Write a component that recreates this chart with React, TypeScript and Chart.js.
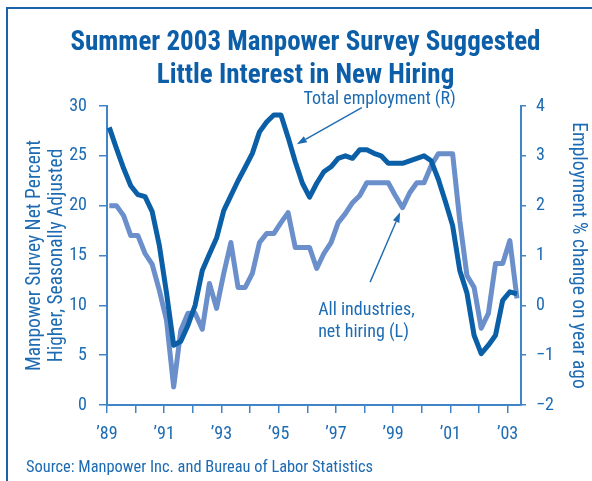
import React, { useEffect, useRef } from 'react';
import { Chart, registerables } from 'chart.js';

Chart.register(...registerables);

// ---- data (quarterly, 1989 Q1 .. 2003 Q2) ----
const FIRST_YEAR = 1989;
const QUARTERS_PER_YEAR = 4;
const PLOT_OFFSET = 0.08; // position of a quarter's point within the quarter

// Manpower survey: net percent higher, seasonally adjusted (left axis)
const netHiring = [
  20, 20, 19, 17, 17, 15.2, 14.1, 11.5, 8.5, 1.8, 7.5, 9.2,
  9.2, 7.6, 12.2, 9.7, 13.2, 16.3, 11.8, 11.8, 13.2, 16.3, 17.2, 17.2,
  18.3, 19.3, 15.8, 15.8, 15.8, 13.7, 15.2, 16.3, 18.3, 19.2, 20.3, 21.0,
  22.3, 22.3, 22.3, 22.3, 21.0, 19.8, 21.3, 22.3, 22.3, 24.0, 25.2, 25.2,
  25.2, 18.5, 13.0, 11.8, 7.7, 9.2, 14.2, 14.2, 16.5, 10.7,
];

// Total employment, % change on year ago (right axis)
const employment = [
  3.57, 3.15, 2.75, 2.4, 2.22, 2.18, 1.88, 1.2, 0.25, -0.8, -0.72, -0.4,
  0.0, 0.7, 1.03, 1.35, 1.9, 2.2, 2.5, 2.77, 3.05, 3.48, 3.68, 3.82,
  3.82, 3.37, 2.88, 2.45, 2.17, 2.45, 2.68, 2.78, 2.95, 3.0, 2.95, 3.12,
  3.12, 3.05, 3.0, 2.85, 2.85, 2.85, 2.9, 2.95, 3.0, 2.9, 2.53, 2.08,
  1.6, 0.7, 0.25, -0.6, -0.97, -0.8, -0.6, 0.1, 0.27, 0.23,
];

const tickYears = [1989, 1990, 1991, 1992, 1993, 1994, 1995, 1996, 1997, 1998, 1999, 2000, 2001, 2002, 2003];
const labeledYears = [1989, 1991, 1993, 1995, 1997, 1999, 2001, 2003];
const yearLabels = ['\u201989', '\u201991', '\u201993', '\u201995', '\u201997', '\u201999', '\u201901', '\u201903'];

const leftTicks = [0, 5, 10, 15, 20, 25, 30];
const rightTicks = [-2, -1, 0, 1, 2, 3, 4];
const rightTickLabels = ['\u22122', '\u22121', '0', '1', '2', '3', '4'];

const X_MIN = 1989;
const X_MAX = 2003.47;

const titleLines = ['Summer 2003 Manpower Survey Suggested', 'Little Interest in New Hiring'];
const leftAxisTitle = ['Manpower Survey Net Percent', 'Higher, Seasonally Adjusted'];
const rightAxisTitle = 'Employment % change on year ago';
const sourceText = 'Source: Manpower Inc. and Bureau of Labor Statistics';

// ---- styles ----
const FONT = "'Roboto Condensed', 'Open Sans Condensed', sans-serif";
const TITLE_BLUE = '#0b5ea7';
const TEXT_BLUE = '#1d6bb3';
const AXIS_BLUE = '#4285c6';
const DARK_LINE = '#0a5fa6';
const LIGHT_LINE = '#6a8fca';

// annotation placement (data coordinates: x in years, y on left axis)
const notes = [
  { x: 1995.87, y: 30.2, lines: ['Total employment (R)'] },
  { x: 1996.38, y: 9.05, lines: ['All industries,', 'net hiring (L)'] },
];
const arrows = [
  { from: [1997.905, 29.83], to: [1995.633, 26.17] },
  { from: [1998.196, 12.33], to: [1999.245, 19.33] },
];

const quarterX = (i: number) => FIRST_YEAR + i / QUARTERS_PER_YEAR + PLOT_OFFSET;

const annotationPlugin = {
  id: 'notes',
  afterDraw(chart: any) {
    const { ctx, scales } = chart;
    const xs = scales.x;
    const ys = scales.yL;
    ctx.save();
    ctx.fillStyle = TEXT_BLUE;
    ctx.strokeStyle = TEXT_BLUE;
    ctx.font = `18px ${FONT}`;
    ctx.textAlign = 'left';
    ctx.textBaseline = 'alphabetic';
    for (const n of notes) {
      const px = xs.getPixelForValue(n.x);
      const py = ys.getPixelForValue(n.y);
      n.lines.forEach((t, i) => ctx.fillText(t, px, py + i * 22));
    }
    ctx.lineWidth = 1.4;
    for (const a of arrows) {
      const x1 = xs.getPixelForValue(a.from[0]);
      const y1 = ys.getPixelForValue(a.from[1]);
      const x2 = xs.getPixelForValue(a.to[0]);
      const y2 = ys.getPixelForValue(a.to[1]);
      const ang = Math.atan2(y2 - y1, x2 - x1);
      const len = 10;
      const hw = 3.5;
      const bx = x2 - Math.cos(ang) * len;
      const by = y2 - Math.sin(ang) * len;
      ctx.beginPath();
      ctx.moveTo(x1, y1);
      ctx.lineTo(bx, by);
      ctx.stroke();
      ctx.beginPath();
      ctx.moveTo(x2, y2);
      ctx.lineTo(bx + Math.sin(ang) * hw, by - Math.cos(ang) * hw);
      ctx.lineTo(bx - Math.sin(ang) * hw, by + Math.cos(ang) * hw);
      ctx.closePath();
      ctx.fill();
    }
    ctx.restore();
  },
};

export default function App() {
  const canvasRef = useRef<HTMLCanvasElement | null>(null);

  useEffect(() => {
    const canvas = canvasRef.current;
    if (!canvas) return;
    const chart = new Chart(canvas, {
      type: 'line',
      data: {
        datasets: [
          {
            label: 'Total employment (R)',
            data: employment.map((v, i) => ({ x: quarterX(i), y: v })),
            yAxisID: 'yR',
            borderColor: DARK_LINE,
            borderWidth: 5,
            pointRadius: 0,
            tension: 0,
            borderJoinStyle: 'round',
            order: 0,
          },
          {
            label: 'All industries, net hiring (L)',
            data: netHiring.map((v, i) => ({ x: quarterX(i), y: v })),
            yAxisID: 'yL',
            borderColor: LIGHT_LINE,
            borderWidth: 5,
            pointRadius: 0,
            tension: 0,
            borderJoinStyle: 'round',
            order: 1,
          },
        ],
      },
      options: {
        responsive: false,
        animation: false,
        devicePixelRatio: 1,
        layout: { padding: { top: 106, bottom: 36, left: 0, right: 0 } },
        plugins: { legend: { display: false }, tooltip: { enabled: false }, title: { display: false } },
        scales: {
          x: {
            type: 'linear',
            min: X_MIN,
            max: X_MAX,
            afterFit: (s: any) => { s.height = 40; },
            afterBuildTicks: (s: any) => { s.ticks = tickYears.map((v) => ({ value: v })); },
            grid: { drawOnChartArea: false, drawTicks: true, tickLength: 8, color: AXIS_BLUE, lineWidth: 1.5 },
            border: { display: true, color: AXIS_BLUE, width: 2 },
            ticks: {
              autoSkip: false,
              maxRotation: 0,
              padding: 11,
              color: TEXT_BLUE,
              font: { family: FONT, size: 18 },
              callback: (v: any) => {
                const idx = labeledYears.indexOf(Math.round(Number(v)));
                return idx >= 0 ? yearLabels[idx] : '';
              },
            },
          },
          yL: {
            type: 'linear',
            position: 'left',
            min: leftTicks[0],
            max: leftTicks[leftTicks.length - 1],
            afterFit: (s: any) => { s.width = 107; },
            grid: { drawOnChartArea: false, drawTicks: true, tickLength: 8, color: AXIS_BLUE, lineWidth: 1.5 },
            border: { display: true, color: AXIS_BLUE, width: 2 },
            ticks: {
              stepSize: leftTicks[1] - leftTicks[0],
              padding: 12,
              color: TEXT_BLUE,
              font: { family: FONT, size: 18 },
            },
            title: {
              display: true,
              text: leftAxisTitle,
              color: TEXT_BLUE,
              font: { family: FONT, size: 19.5, lineHeight: 1.12 },
              padding: { top: 24, bottom: 0 },
            },
          },
          yR: {
            type: 'linear',
            position: 'right',
            min: rightTicks[0],
            max: rightTicks[rightTicks.length - 1],
            afterFit: (s: any) => { s.width = 71; },
            grid: { drawOnChartArea: false, drawTicks: true, tickLength: 5, color: AXIS_BLUE, lineWidth: 1.5 },
            border: { display: true, color: AXIS_BLUE, width: 2 },
            ticks: {
              stepSize: 1,
              padding: 10,
              color: TEXT_BLUE,
              font: { family: FONT, size: 18 },
              callback: (v: any) => {
                const idx = rightTicks.indexOf(Number(v));
                return idx >= 0 ? rightTickLabels[idx] : '';
              },
            },
            title: {
              display: true,
              text: rightAxisTitle,
              color: TEXT_BLUE,
              font: { family: FONT, size: 19.5, lineHeight: 1.12 },
              padding: { top: 3, bottom: 0 },
            },
          },
        },
      } as any,
      plugins: [annotationPlugin],
    });
    return () => chart.destroy();
  }, []);

  return (
    <div style={{ position: 'absolute', left: 0, top: 0, width: 592, height: 481, overflow: 'hidden', background: '#fff' }}>
      <div
        style={{
          position: 'absolute', left: 6, top: 7, width: 600, height: 490,
          borderTop: '2px solid #1a63a9', borderLeft: '2px solid #1a63a9',
        }}
      />
      <canvas ref={canvasRef} width={592} height={481} style={{ position: 'absolute', left: 0, top: 0, width: 592, height: 481 }} />
      <div
        style={{
          position: 'absolute', left: 0, top: 25, width: 611, textAlign: 'center',
          fontFamily: FONT, fontWeight: 'bold', fontSize: 27, lineHeight: '33px', color: TITLE_BLUE,
          whiteSpace: 'nowrap',
        }}
      >
        {titleLines.map((t) => (
          <div key={t}>{t}</div>
        ))}
      </div>
      <div
        style={{
          position: 'absolute', left: 26, top: 457, fontFamily: FONT, fontSize: 16.4,
          lineHeight: '20px', color: TEXT_BLUE, whiteSpace: 'nowrap',
        }}
      >
        {sourceText}
      </div>
    </div>
  );
}
